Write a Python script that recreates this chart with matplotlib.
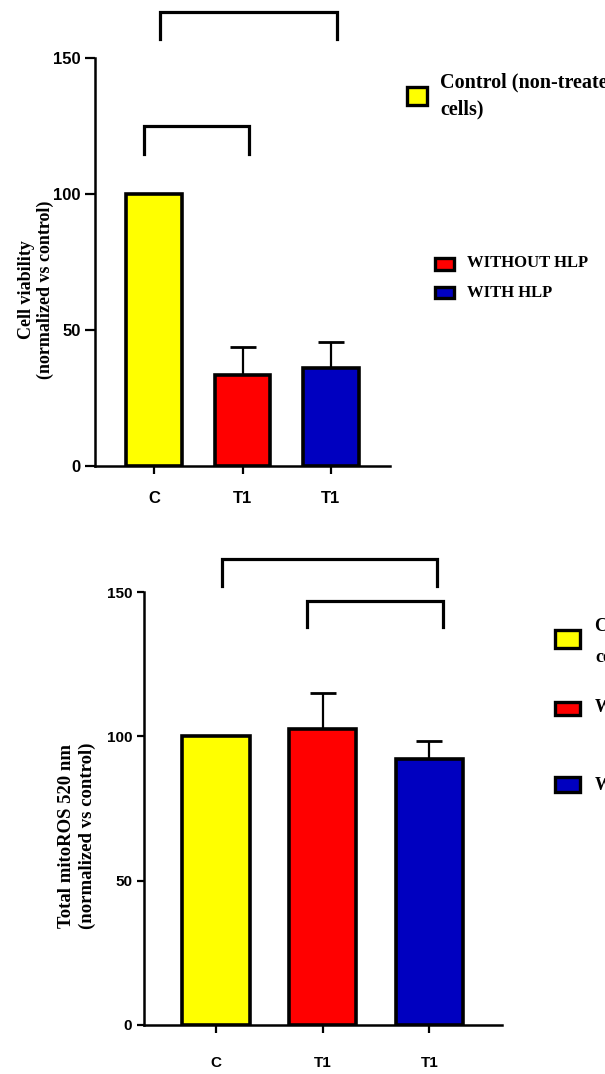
import matplotlib
matplotlib.use('Agg')
import matplotlib.pyplot as plt
from matplotlib.patches import Rectangle

# data
categories = ['C', 'T1', 'T1']
bar_colors = ['#ffff00', '#ff0000', '#0000c0']
legend_labels = ['Control (non-treated\ncells)', 'WITHOUT HLP', 'WITH HLP']

viability = [100, 33.5, 36]
viability_err = [0, 10.2, 9.6]
ros = [100, 102.5, 92]
ros_err = [0, 12.5, 6.4]

# significance brackets: (x start, x end, top y, leg bottom y)
viability_brackets = [(0.07, 2.07, 167, 157), (-0.12, 1.07, 125, 114.7)]
ros_brackets = [(0.06, 2.07, 161.4, 152), (0.85, 2.13, 147, 138)]

W, H = 605, 1074
fig = plt.figure(figsize=(W / 100, H / 100), dpi=100)

sans = ['Liberation Sans Narrow', 'Liberation Sans', 'DejaVu Sans']
serif = ['Liberation Serif', 'DejaVu Serif']


def box(left, top, right, bottom):
    # pixel box (from top-left) -> figure fractions
    return [left / W, 1 - bottom / H, (right - left) / W, (bottom - top) / H]


def draw_panel(ax, vals, errs, brackets, xlim, tick_fs):
    x = range(len(vals))
    ax.bar(x, vals, width=0.63, color=bar_colors, edgecolor='black', linewidth=2.6, zorder=2)
    for xi, v, e in zip(x, vals, errs):
        if e > 0:
            ax.errorbar(xi, v, yerr=[[0], [e]], fmt='none', ecolor='black',
                        elinewidth=1.6, capsize=9.5, capthick=2.0, zorder=1)
    for x0, x1, top, bot in brackets:
        ax.plot([x0, x0, x1, x1], [bot, top, top, bot], color='black', lw=2.3,
                clip_on=False, solid_joinstyle='miter')
    ax.set_xlim(*xlim)
    ax.set_ylim(0, 150)
    ax.set_yticks([0, 50, 100, 150])
    ax.set_xticks(list(x))
    ax.set_xticklabels(categories)
    for s in ['top', 'right']:
        ax.spines[s].set_visible(False)
    for s in ['left', 'bottom']:
        ax.spines[s].set_linewidth(1.8)
    ax.tick_params(axis='both', width=1.6, labelsize=tick_fs)
    for lab in ax.get_xticklabels() + ax.get_yticklabels():
        lab.set_family(sans)
        lab.set_fontweight('bold')


def legend_block(items):
    for (l, t, r, b), col, txt, tx, ty, fs, ls in items:
        fig.patches.append(Rectangle((l / W, 1 - b / H), (r - l) / W, (b - t) / H,
                                     transform=fig.transFigure, facecolor=col,
                                     edgecolor='black', linewidth=2.4))
        fig.text(tx / W, 1 - ty / H, txt, family=serif, fontweight='bold',
                 fontsize=fs, ha='left', va='center', linespacing=ls)


# top panel: cell viability
ax1 = fig.add_axes(box(95, 58, 390, 466))
draw_panel(ax1, viability, viability_err, viability_brackets, (-0.67, 2.67), 12)
ax1.tick_params(axis='y', length=7)
ax1.tick_params(axis='x', length=6, pad=12)
fig.text(36 / W, 1 - 290 / H, 'Cell viability\n(normalized vs control)', rotation=90,
         family=serif, fontweight='bold', fontsize=13, ha='center', va='center',
         multialignment='center', linespacing=1.1)

legend_block([
    ((407, 87, 427, 105), bar_colors[0], legend_labels[0], 440, 96, 14.5, 1.45),
    ((435, 258, 454, 270), bar_colors[1], legend_labels[1], 467, 263, 12, 1.2),
    ((435, 287, 454, 298), bar_colors[2], legend_labels[2], 467, 293, 12, 1.2),
])

# bottom panel: total mitoROS
ax2 = fig.add_axes(box(144, 592, 502, 1025))
draw_panel(ax2, ros, ros_err, ros_brackets, (-0.675, 2.68), 11)
ax2.tick_params(axis='y', length=5)
ax2.tick_params(axis='x', length=6, pad=16)
fig.text(77 / W, 1 - 836 / H, 'Total mitoROS 520 nm\n(normalized vs control)', rotation=90,
         family=serif, fontweight='bold', fontsize=13.5, ha='center', va='center',
         multialignment='center', linespacing=1.25)

legend_block([
    ((555, 630, 580, 648), bar_colors[0], legend_labels[0], 595, 642, 13, 2.0),
    ((555, 702, 580, 715), bar_colors[1], legend_labels[1], 595, 708, 13, 1.2),
    ((555, 777, 580, 792), bar_colors[2], legend_labels[2], 595, 785, 13, 1.2),
])

fig.savefig('out.png', dpi=100)
